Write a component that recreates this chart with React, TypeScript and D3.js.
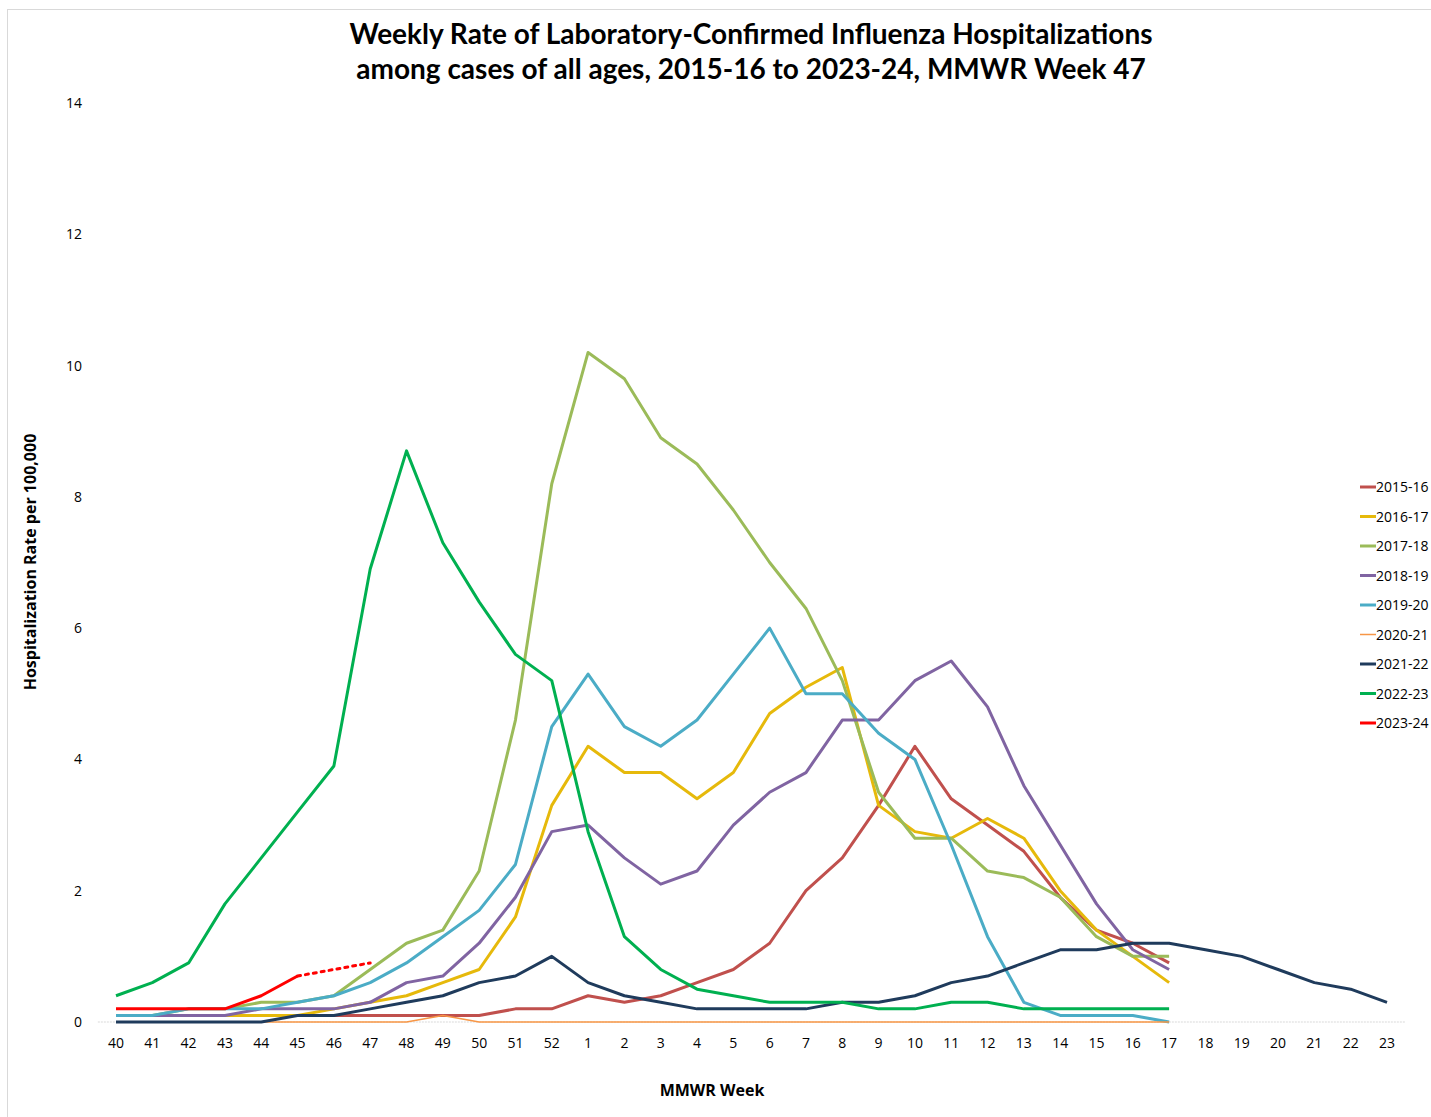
import React from "react";
import * as d3 from "d3";

const weeks: string[] = [
  "40","41","42","43","44","45","46","47","48","49","50","51","52",
  "1","2","3","4","5","6","7","8","9","10","11","12","13","14","15","16","17",
  "18","19","20","21","22","23",
];
const yTicks: number[] = [0, 2, 4, 6, 8, 10, 12, 14];

const s1516: number[] = [0.1,0.1,0.1,0.1,0.1,0.1,0.1,0.1,0.1,0.1,0.1,0.2,0.2,0.4,0.3,0.4,0.6,0.8,1.2,2.0,2.5,3.3,4.2,3.4,3.0,2.6,1.9,1.4,1.2,0.9];
const s1617: number[] = [0.1,0.1,0.1,0.1,0.1,0.1,0.2,0.3,0.4,0.6,0.8,1.6,3.3,4.2,3.8,3.8,3.4,3.8,4.7,5.1,5.4,3.3,2.9,2.8,3.1,2.8,2.0,1.4,1.0,0.6];
const s1718: number[] = [0.1,0.1,0.2,0.2,0.3,0.3,0.4,0.8,1.2,1.4,2.3,4.6,8.2,10.2,9.8,8.9,8.5,7.8,7.0,6.3,5.2,3.5,2.8,2.8,2.3,2.2,1.9,1.3,1.0,1.0];
const s1819: number[] = [0.1,0.1,0.1,0.1,0.2,0.2,0.2,0.3,0.6,0.7,1.2,1.9,2.9,3.0,2.5,2.1,2.3,3.0,3.5,3.8,4.6,4.6,5.2,5.5,4.8,3.6,2.7,1.8,1.1,0.8];
const s1920: number[] = [0.1,0.1,0.2,0.2,0.2,0.3,0.4,0.6,0.9,1.3,1.7,2.4,4.5,5.3,4.5,4.2,4.6,5.3,6.0,5.0,5.0,4.4,4.0,2.7,1.3,0.3,0.1,0.1,0.1,0.0];
const s2021: number[] = [0,0,0,0,0,0,0,0,0,0.1,0,0,0,0,0,0,0,0,0,0,0,0,0,0,0,0,0,0,0,0];
const s2122: number[] = [0,0,0,0,0,0.1,0.1,0.2,0.3,0.4,0.6,0.7,1.0,0.6,0.4,0.3,0.2,0.2,0.2,0.2,0.3,0.3,0.4,0.6,0.7,0.9,1.1,1.1,1.2,1.2,1.1,1.0,0.8,0.6,0.5,0.3];
const s2223: number[] = [0.4,0.6,0.9,1.8,2.5,3.2,3.9,6.9,8.7,7.3,6.4,5.6,5.2,2.9,1.3,0.8,0.5,0.4,0.3,0.3,0.3,0.2,0.2,0.3,0.3,0.2,0.2,0.2,0.2,0.2];
const s2324: number[] = [0.2,0.2,0.2,0.2,0.4,0.7];
const s2324Projected: number[] = [0.7,0.8,0.9]; // weeks 45-47, dotted

const seriesNames: string[] = ["2015-16","2016-17","2017-18","2018-19","2019-20","2020-21","2021-22","2022-23","2023-24"];
const seriesColors: string[] = ["#c0504d","#e6b90b","#9bbb59","#8064a2","#4bacc6","#f79646","#1f3b5c","#00b050","#ff0000"];
const seriesWidths: number[] = [3,3,3,3,3,1.5,3,3,3];

const W = 1431;
const H = 1117;

export default function App() {
  const allSeries = [s1516, s1617, s1718, s1819, s1920, s2021, s2122, s2223, s2324];
  const x = d3.scalePoint<string>().domain(weeks).range([116, 1387]);
  const y = d3.scaleLinear().domain([0, 14]).range([1022, 103]);
  const step = x.step();
  const line = d3
    .line<number>()
    .x((_, i) => x(weeks[i]) as number)
    .y((v) => y(v));
  const projLine = d3
    .line<number>()
    .x((_, i) => x(weeks[5 + i]) as number)
    .y((v) => y(v));

  const legendX = 1360;
  const legendY0 = 487;
  const legendStep = 29.5;

  return (
    <svg width={W} height={H} style={{ display: "block", position: "absolute", left: 0, top: 0, background: "#fff" }}
      fontFamily="'Open Sans', 'DejaVu Sans', sans-serif">
      <rect x={7.5} y={9.5} width={W - 6} height={H} fill="#fff" stroke="#d9d9d9" strokeWidth={1} />
      <g fontFamily="Lato, 'Open Sans', sans-serif" fontWeight="bold" fontSize={28} textAnchor="middle" fill="#000">
        <text x={751} y={44}>Weekly Rate of Laboratory-Confirmed Influenza Hospitalizations</text>
        <text x={751} y={79}>among cases of all ages, 2015-16 to 2023-24, MMWR Week 47</text>
      </g>
      {/* baseline axis */}
      <line x1={116 - step / 2} x2={1387 + step / 2} y1={y(0)} y2={y(0)} stroke="#d9d9d9" strokeWidth={1} strokeDasharray="2,1" />
      {/* y ticks */}
      <g fontSize={14} fill="#000" textAnchor="end">
        {yTicks.map((t) => (
          <text key={t} x={82} y={y(t) + 5}>{t}</text>
        ))}
      </g>
      {/* x ticks */}
      <g fontSize={14} fill="#000" textAnchor="middle">
        {weeks.map((w) => (
          <text key={w} x={x(w) as number} y={1048}>{w}</text>
        ))}
      </g>
      <text x={712} y={1096} textAnchor="middle" fontWeight="bold" fontSize={16}>MMWR Week</text>
      <text transform={`translate(36,562) rotate(-90)`} textAnchor="middle" fontWeight="bold" fontSize={16}>
        Hospitalization Rate per 100,000
      </text>
      {/* lines */}
      <g fill="none" strokeLinejoin="round">
        {allSeries.map((s, i) => (
          <path key={seriesNames[i]} d={line(s) || ""} stroke={seriesColors[i]} strokeWidth={seriesWidths[i]} />
        ))}
        <path d={projLine(s2324Projected) || ""} stroke="#ff0000" strokeWidth={3} strokeDasharray="3,5" strokeLinecap="round" />
      </g>
      {/* legend */}
      <g fontSize={14} fill="#000">
        {seriesNames.map((n, i) => (
          <g key={n} transform={`translate(${legendX},${legendY0 + i * legendStep})`}>
            <line x1={0} x2={16} y1={0} y2={0} stroke={seriesColors[i]} strokeWidth={seriesWidths[i]} />
            <text x={16} y={5}>{n}</text>
          </g>
        ))}
      </g>
    </svg>
  );
}
